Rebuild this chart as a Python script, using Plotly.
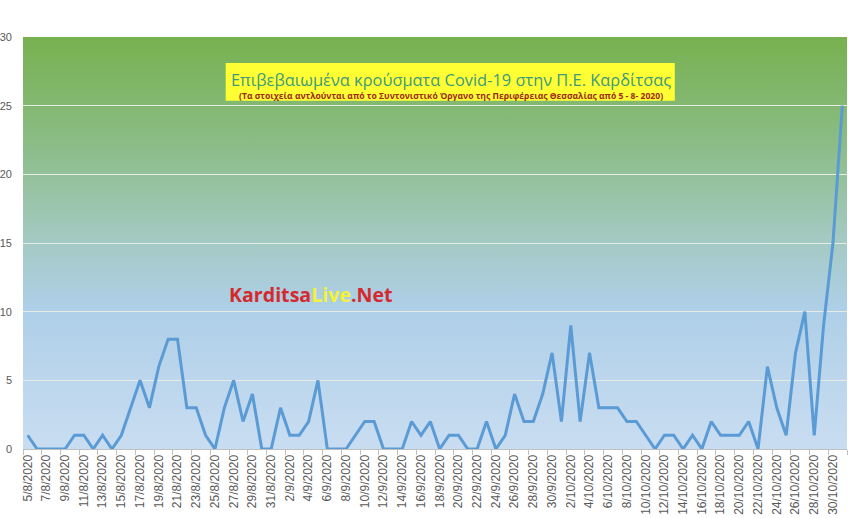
import base64
import pandas as pd
import plotly.graph_objects as go

# daily confirmed cases, 5/8/2020 .. 31/10/2020
dates = pd.date_range("2020-08-05", "2020-10-31", freq="D")
date_labels = [f"{d.day}/{d.month}/{d.year}" for d in dates]

aug_cases = [1, 0, 0, 0, 0, 1, 1, 0, 1, 0, 1, 3, 5, 3, 6, 8, 8, 3, 3, 1,
             0, 3, 5, 2, 4, 0, 0]
sep_cases = [3, 1, 1, 2, 5, 0, 0, 0, 1, 2, 2, 0, 0, 0, 2, 1, 2, 0, 1, 1,
             0, 0, 2, 0, 1, 4, 2, 2, 4, 7]
oct_cases = [2, 9, 2, 7, 3, 3, 3, 2, 2, 1, 0, 1, 1, 0, 1, 0, 2, 1, 1, 1,
             2, 0, 6, 3, 1, 7, 10, 1, 9, 15, 25]
cases = aug_cases + sep_cases + oct_cases

y_ticks = [0, 5, 10, 15, 20, 25, 30]

title_main = "Επιβεβαιωμένα κρούσματα Covid-19 στην Π.Ε. Καρδίτσας"
title_sub = "(Τα στοιχεία αντλούνται από το Συντονιστικό Όργανο της Περιφέρειας Θεσσαλίας από 5 - 8- 2020)"

# green -> light blue background of the plot area
svg = ('<svg xmlns="http://www.w3.org/2000/svg" width="100" height="100" '
       'viewBox="0 0 100 100" preserveAspectRatio="none">'
       '<defs><linearGradient id="g" x1="0" y1="0" x2="0" y2="1">'
       '<stop offset="0" stop-color="#77b14f"/>'
       '<stop offset="0.25" stop-color="#8abc84"/>'
       '<stop offset="0.48" stop-color="#a3c9c0"/>'
       '<stop offset="0.66" stop-color="#aecfe8"/>'
       '<stop offset="1" stop-color="#c9ddf1"/>'
       '</linearGradient></defs>'
       '<rect x="0" y="0" width="100" height="100" fill="url(#g)"/></svg>')
bg_src = "data:image/svg+xml;base64," + base64.b64encode(svg.encode()).decode()

fig = go.Figure()
fig.add_trace(go.Scatter(x=date_labels, y=cases, mode="lines",
                         line=dict(color="#5b9bd5", width=3),
                         showlegend=False))

fig.add_layout_image(dict(source=bg_src, xref="paper", yref="paper",
                          x=0, y=1, sizex=1, sizey=1, sizing="stretch",
                          xanchor="left", yanchor="top", layer="below"))

# yellow title box
fig.add_shape(type="rect", xref="paper", yref="paper",
              x0=0.246, x1=0.791, y0=0.845, y1=0.937,
              fillcolor="#ffff33", line=dict(width=0), layer="above")
fig.add_annotation(text=title_main, xref="paper", yref="paper",
                   x=0.519, y=0.898, xanchor="center", yanchor="middle",
                   showarrow=False,
                   font=dict(family="Open Sans", size=16.4, color="#3d9a7c"))
fig.add_annotation(text="<b>" + title_sub + "</b>", xref="paper", yref="paper",
                   x=0.519, y=0.856, xanchor="center", yanchor="middle",
                   showarrow=False,
                   font=dict(family="Open Sans", size=8.6, color="#9c2a1e"))

fig.add_annotation(
    text="<b>Karditsa<span style='color:#f2f23a'>Live</span>.Net</b>",
    xref="paper", yref="paper", x=0.350, y=0.374,
    xanchor="center", yanchor="middle", showarrow=False,
    font=dict(family="Open Sans", size=19.6, color="#d42a2e"))

fig.update_layout(
    width=848, height=518,
    margin=dict(l=23, r=1, t=37, b=69),
    paper_bgcolor="white",
    plot_bgcolor="rgba(0,0,0,0)",
    font=dict(family="Liberation Sans", size=11, color="#595959"),
    xaxis=dict(type="category", dtick=2, tickangle=-90, tickson="boundaries",
               ticks="outside", ticklen=5, tickcolor="#bfbfbf",
               showline=True, linecolor="#bfbfbf", showgrid=False,
               automargin=False, range=[-0.5, len(cases) - 0.5],
               tickfont=dict(size=12, color="#595959")),
    yaxis=dict(range=[0, 30], tickvals=y_ticks, showgrid=True,
               gridcolor="#e6ece4", gridwidth=1, zeroline=False,
               showline=False, ticks="", ticklabelstandoff=10,
               automargin=False,
               tickfont=dict(size=11, color="#595959")),
)

fig.write_html("out.html", config={"displayModeBar": False},
               post_script="document.body.style.margin='0';")
